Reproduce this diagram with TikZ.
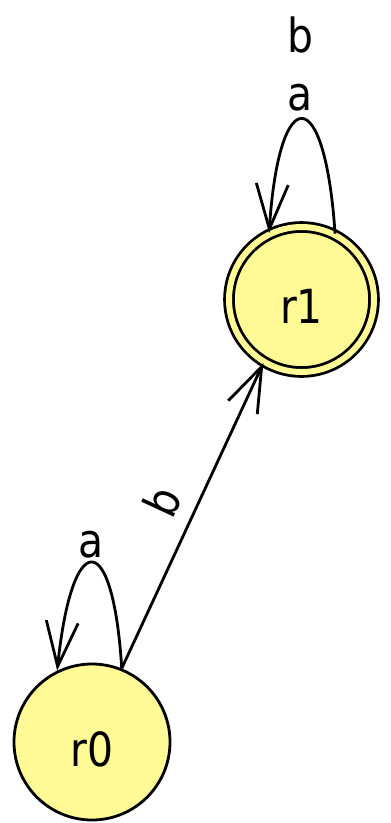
\documentclass[tikz,border=0pt]{standalone}
\usepackage{fontspec}
\setmainfont{DejaVu Sans}[FakeStretch=0.87]
\usetikzlibrary{arrows.meta}
\definecolor{statefill}{RGB}{255,250,150}
\begin{document}
\begin{tikzpicture}[x=1pt,y=-1pt,
  state/.style={circle, draw, fill=statefill, line width=2.8pt, minimum size=156pt, inner sep=0pt,
    text height=48pt, text depth=0pt, font=\fontsize{47}{56}\selectfont},
  accepting/.style={double=statefill, double distance=6pt, minimum size=145pt},
  lbl/.style={font=\fontsize{47}{56}\selectfont, inner sep=0pt},
  edge/.style={line width=2.8pt, -{Straight Barb[length=45pt,width=32pt]}}]
\useasboundingbox (0,0) rectangle (391,823);
\node[state] (r0) at (92,742) {r0};
\node[state, accepting] (r1) at (301.5,299.5) {r1};
% self loop on r1
\draw[edge] (r1.63) .. controls (325,81) and (279,81) .. (r1.116);
\node[lbl, anchor=base] (la1) at (300,110) {a};
\node[lbl, anchor=base] (lb1) at (300,52) {b};
% self loop on r0
\draw[edge] (r0.68) .. controls (113,527) and (72,527) .. (r0.116);
\node[lbl, anchor=base] (la0) at (91,557) {a};
% r0 -> r1
\draw[edge] (r0.68) -- node[lbl, sloped, above=14pt, pos=0.5] (lb) {b} (r1.239);
\end{tikzpicture}
\end{document}
